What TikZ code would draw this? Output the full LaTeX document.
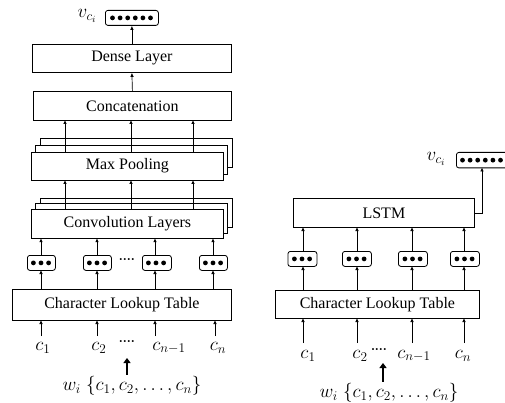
\RequirePackage{fix-cm}
\documentclass[tikz,border=0pt]{standalone}
\usepackage{fontspec}
\setmainfont{Liberation Serif}
\usetikzlibrary{arrows.meta,calc}
\tikzset{
  box/.style={draw, fill=white, line width=0.8pt, inner sep=0pt, anchor=north west},
  vbox/.style={draw, fill=white, line width=0.8pt, rounded corners=2.5pt, inner sep=0pt, anchor=north west},
  arr/.style={line width=0.7pt, -{Latex[length=4pt,width=3.5pt]}},
  thickarr/.style={line width=2.6pt, -{Triangle[length=5pt,width=7pt]}},
  lbl/.style={inner sep=0pt, font=\fontsize{19}{22}\selectfont},
  dotdot/.style={inner sep=0pt, font=\fontsize{12}{14}\selectfont\bfseries}
}
\newcommand{\dotrow}[4]{%
  \foreach \k in {1,...,#2}{%
    \fill ($(#1.west)+({#4+(\k-1)*#3},0)$) circle (2.4pt);}}
\begin{document}
\begin{tikzpicture}[x=1pt,y=-1pt,font=\fontsize{16}{19}\selectfont]
\useasboundingbox (0,0) rectangle (505,403);

% ---------- Left panel ----------
\node[vbox, minimum width=53pt, minimum height=15pt] (vL) at (105,10) {};
\dotrow{vL}{6}{7.6}{7.5}
\node[lbl] (vLl) at (87,16) {$v_{c_i}$};

\node[box, minimum width=199pt, minimum height=28pt] (dense) at (32,44) {};
\node at (dense.center) {Dense Layer};
\node[box, minimum width=198pt, minimum height=29pt] (concat) at (33,91) {};
\node at (concat.center) {Concatenation};

% Max pooling stack
\node[box, minimum width=192pt, minimum height=29pt] (mp3) at (39.6,138.3) {};
\node[box, minimum width=192pt, minimum height=29pt] (mp2) at (35.3,145) {};
\node[box, minimum width=192pt, minimum height=28pt] (mp) at (31,151.7) {};
\node at (mp.center) {Max Pooling};

% Convolution stack
\node[box, minimum width=192pt, minimum height=29pt] (cv3) at (39.6,198) {};
\node[box, minimum width=192pt, minimum height=29pt] (cv2) at (35.3,203.5) {};
\node[box, minimum width=192pt, minimum height=29pt] (cv) at (31,209.2) {};
\node at (cv.center) {Convolution Layers};

% small embedding vectors
\node[vbox, minimum width=28pt, minimum height=15pt] (s1) at (27,255) {};
\node[vbox, minimum width=28pt, minimum height=15pt] (s2) at (83,255) {};
\node[vbox, minimum width=29pt, minimum height=15pt] (s3) at (142,255) {};
\node[vbox, minimum width=28pt, minimum height=15pt] (s4) at (199,255) {};
\foreach \s in {s1,s2,s3,s4}{\dotrow{\s}{3}{7.6}{6.4}}
\node[dotdot] (dd1) at (127,261) {····};

\node[box, minimum width=219pt, minimum height=31pt] (clt) at (12,289) {};
\node at (clt.center) {Character Lookup Table};

% character labels
\node[lbl] (c1) at (43,348) {$c_1$};
\node[lbl] (c2) at (99,348) {$c_2$};
\node[dotdot] (dd2) at (127,343) {····};
\node[lbl] (c3) at (169,348) {$c_{n-1}$};
\node[lbl] (c4) at (218,348) {$c_n$};
\node[lbl] (w1) at (132,386) {$w_i\;\{c_1,c_2,\ldots,c_n\}$};
\coordinate (t1) at (127,358);

% connectors left
\draw[arr] (dense.north) -- (vL.south);
\draw[arr] (concat.north) -- (dense.south);
\foreach \xx in {65,131,193}{
  \draw[arr] (\xx,151.7) -- (\xx,120);
  \draw[arr] (\xx,209.2) -- (\xx,180);
}
\foreach \s/\xx in {s1/41,s2/97,s3/155,s4/213}{
  \draw[arr] (\xx,255) -- (\xx,238.2);
  \draw[arr] (\xx,289) -- (\xx,270);
}
\foreach \c/\xx in {c1/41,c2/97,c3/155,c4/215}{
  \draw[arr] (\xx,336) -- (\xx,320);
}
\draw[thickarr] (t1 |- w1.north) ++(0,-1.5) -- (t1);

% ---------- Right panel ----------
\node[vbox, minimum width=52pt, minimum height=15.5pt] (vR) at (456,152) {};
\dotrow{vR}{6}{7.6}{6.5}
\node[lbl] (vRl) at (436,159) {$v_{c_i}$};

\node[box, minimum width=181pt, minimum height=29pt] (lstm) at (293,198) {};
\node at (lstm.center) {LSTM};

\node[vbox, minimum width=29pt, minimum height=15pt] (r1) at (287.5,251) {};
\node[vbox, minimum width=29pt, minimum height=15pt] (r2) at (342,251) {};
\node[vbox, minimum width=29pt, minimum height=15pt] (r3) at (398,251) {};
\node[vbox, minimum width=29pt, minimum height=15pt] (r4) at (450,251) {};
\foreach \s in {r1,r2,r3,r4}{\dotrow{\s}{3}{7.6}{6.9}}

\node[box, minimum width=204pt, minimum height=28pt] (clt2) at (275,290) {};
\node at (clt2.center) {Character Lookup Table};

\node[lbl] (d1) at (308,356) {$c_1$};
\node[lbl] (d2) at (360,356) {$c_2$};
\node[dotdot] (dd3) at (379,351) {····};
\node[lbl] (d3) at (414,356) {$c_{n-1}$};
\node[lbl] (d4) at (463,356) {$c_n$};
\node[lbl] (w2) at (389,393) {$w_i\;\{c_1,c_2,\ldots,c_n\}$};
\coordinate (t2) at (383,363);

\draw[arr] (lstm.east) -| (482,167.5);
\foreach \xx in {303,357,412,464}{
  \draw[arr] (\xx,251) -- (\xx,227);
  \draw[arr] (\xx,290) -- (\xx,266);
  \draw[arr] (\xx,343) -- (\xx,318);
}
\draw[thickarr] (t2 |- w2.north) ++(0,-1.5) -- (t2);
\end{tikzpicture}
\end{document}
